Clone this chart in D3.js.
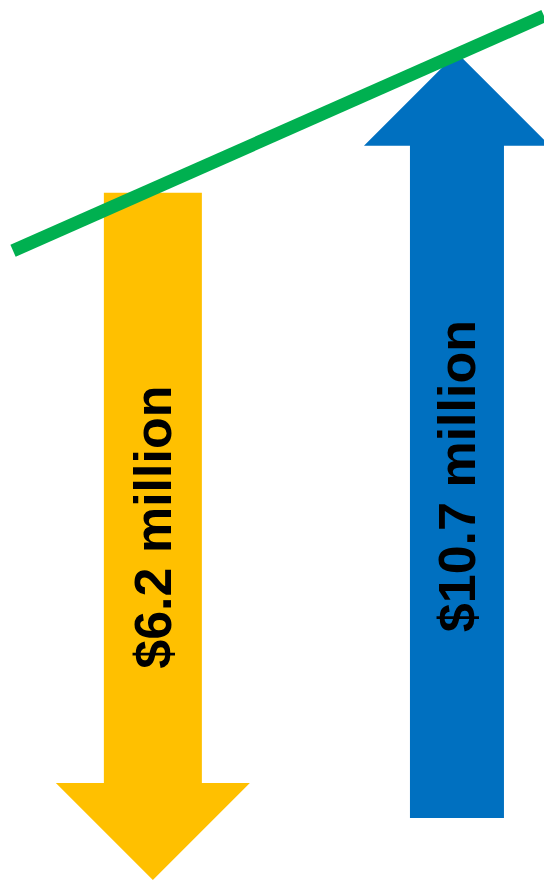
<!DOCTYPE html>
<html><head><meta charset="utf-8">
<script src="https://cdn.jsdelivr.net/npm/d3@7"></script>
<style>html,body{margin:0;padding:0;background:#fff;overflow:hidden}</style>
</head><body><svg id="c" width="544" height="880"></svg>
<script>
// ---- data ----
const categories = ["Decrease", "Increase"];
const labels = ["$6.2 million", "$10.7 million"];
const values = [6.2, 10.7];
const directions = ["down", "up"];
// arrow extents on an abstract level axis (0 = bottom, 100 = top)
const arrowFrom = [78.1, 7.05];
const arrowTo = [0, 94.0];
const labelLevel = [40.1, 45.9];
// trend line (x in 0..100, level in 0..100)
const trendX = [2.4, 100];
const trendLevel = [71.5, 98.2];

// ---- layout / style ----
const W = 544, H = 880;
const arrowCenter = [28.1, 84.0];
const shaftWidth = [98, 94];
const headWidth = [194, 186];
const colors = ["#FFC000", "#0070C0"];
const trendColor = "#00B050";

const svg = d3.select("#c");
const x = d3.scaleLinear().domain([0, 100]).range([0, W]);
const y = d3.scaleLinear().domain([0, 100]).range([H, 0]);

const rows = categories.map((c, i) => ({
  cat: c, label: labels[i], value: values[i], dir: directions[i],
  from: arrowFrom[i], to: arrowTo[i], cx: arrowCenter[i],
  sw: shaftWidth[i] / 2, hw: headWidth[i] / 2, color: colors[i], ly: labelLevel[i]
}));

function arrowPath(d) {
  const cx = x(d.cx), y0 = y(d.from), y1 = y(d.to);
  const s = Math.sign(y1 - y0);
  const base = y1 - s * d.hw;
  const p = d3.path();
  p.moveTo(cx - d.sw, y0);
  p.lineTo(cx + d.sw, y0);
  p.lineTo(cx + d.sw, base);
  p.lineTo(cx + d.hw, base);
  p.lineTo(cx, y1);
  p.lineTo(cx - d.hw, base);
  p.lineTo(cx - d.sw, base);
  p.closePath();
  return p.toString();
}

svg.selectAll("path.arrow").data(rows).join("path")
  .attr("class", "arrow")
  .attr("d", arrowPath)
  .attr("fill", d => d.color);

svg.selectAll("text.lbl").data(rows).join("text")
  .attr("class", "lbl")
  .attr("transform", d => `translate(${x(d.cx)},${y(d.ly)}) rotate(-90)`)
  .attr("text-anchor", "middle")
  .attr("dy", "0.35em")
  .style("font-family", "'Liberation Sans', Arial, sans-serif")
  .style("font-weight", "bold")
  .style("font-size", "52px")
  .attr("fill", "#000")
  .text(d => d.label);

const trend = trendX.map((v, i) => [v, trendLevel[i]]);
svg.append("path")
  .datum(trend)
  .attr("d", d3.line().x(d => x(d[0])).y(d => y(d[1])))
  .attr("fill", "none")
  .attr("stroke", trendColor)
  .attr("stroke-width", 13)
  .attr("stroke-linecap", "butt");
</script>
</body></html>
